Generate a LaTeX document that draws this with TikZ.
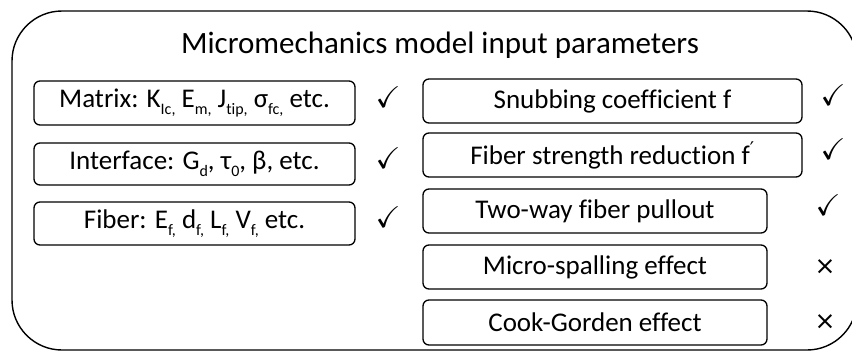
\documentclass[tikz,border=0pt]{standalone}
\usepackage{amssymb}
\usepackage{fontspec}
\setmainfont{Carlito}[Ligatures={NoCommon}]
\newfontfamily\symfont{DejaVu Sans}
\newcommand{\sbs}[1]{\raisebox{-0.28em}{\fontsize{16}{16}\selectfont #1}}
\tikzset{
  outer/.style={draw=black, line width=1.4pt, rounded corners=50pt},
  pbox/.style={draw=black, line width=1.3pt, rounded corners=6pt, font=\fontsize{27}{30}\selectfont, inner sep=0pt},
  tick/.style={font=\fontsize{30}{32}\selectfont, inner sep=0pt},
  cross/.style={font=\symfont\fontsize{25}{27}\selectfont, inner sep=0pt},
}
\begin{document}
\begin{tikzpicture}[x=1pt,y=-1pt]
\useasboundingbox (0,0) rectangle (852,351);
\clip (0,0) rectangle (852,351);
\draw[outer] (12,11) rectangle (857,350);
\node[font=\fontsize{31}{34}\selectfont] (title) at (440,45) {Micromechanics model input parameters};
% left boxes
\node[pbox, minimum width=321pt, minimum height=44pt] (matrix) at (194.5,103) {Matrix: K\sbs{Ic,} E\sbs{m,} J\sbs{tip,} σ\sbs{fc,} etc.};
\node[pbox, minimum width=321pt, minimum height=42pt] (interface) at (194.5,164) {Interface: G\sbs{d}, τ\sbs{0}, β, etc.};
\node[pbox, minimum width=321pt, minimum height=43pt] (fiber) at (194.5,223.5) {Fiber: E\sbs{f,} d\sbs{f,} L\sbs{f,} V\sbs{f,} etc.};
\node[tick] (c1) at (388,97) {$\checkmark$};
\node[tick] (c2) at (388,158) {$\checkmark$};
\node[tick] (c3) at (388,217) {$\checkmark$};
% right boxes
\node[pbox, minimum width=379pt, minimum height=44pt] (snub) at (612.5,101) {Snubbing coefficient f};
\node[pbox, minimum width=379pt, minimum height=44pt] (fsr) at (612.5,155) {Fiber strength reduction f\textsuperscript{\symfont ′}};
\node[pbox, minimum width=344pt, minimum height=44pt] (two) at (595,211) {Two-way fiber pullout};
\node[pbox, minimum width=344pt, minimum height=44pt] (micro) at (595,267) {Micro-spalling effect};
\node[pbox, minimum width=344pt, minimum height=45pt] (cook) at (595,322.5) {Cook-Gorden effect};
\node[tick] (c4) at (833,95) {$\checkmark$};
\node[tick] (c5) at (833,149) {$\checkmark$};
\node[tick] (c6) at (828,205) {$\checkmark$};
\node[cross] (x1) at (825,267) {×};
\node[cross] (x2) at (825,322) {×};
\end{tikzpicture}
\end{document}
